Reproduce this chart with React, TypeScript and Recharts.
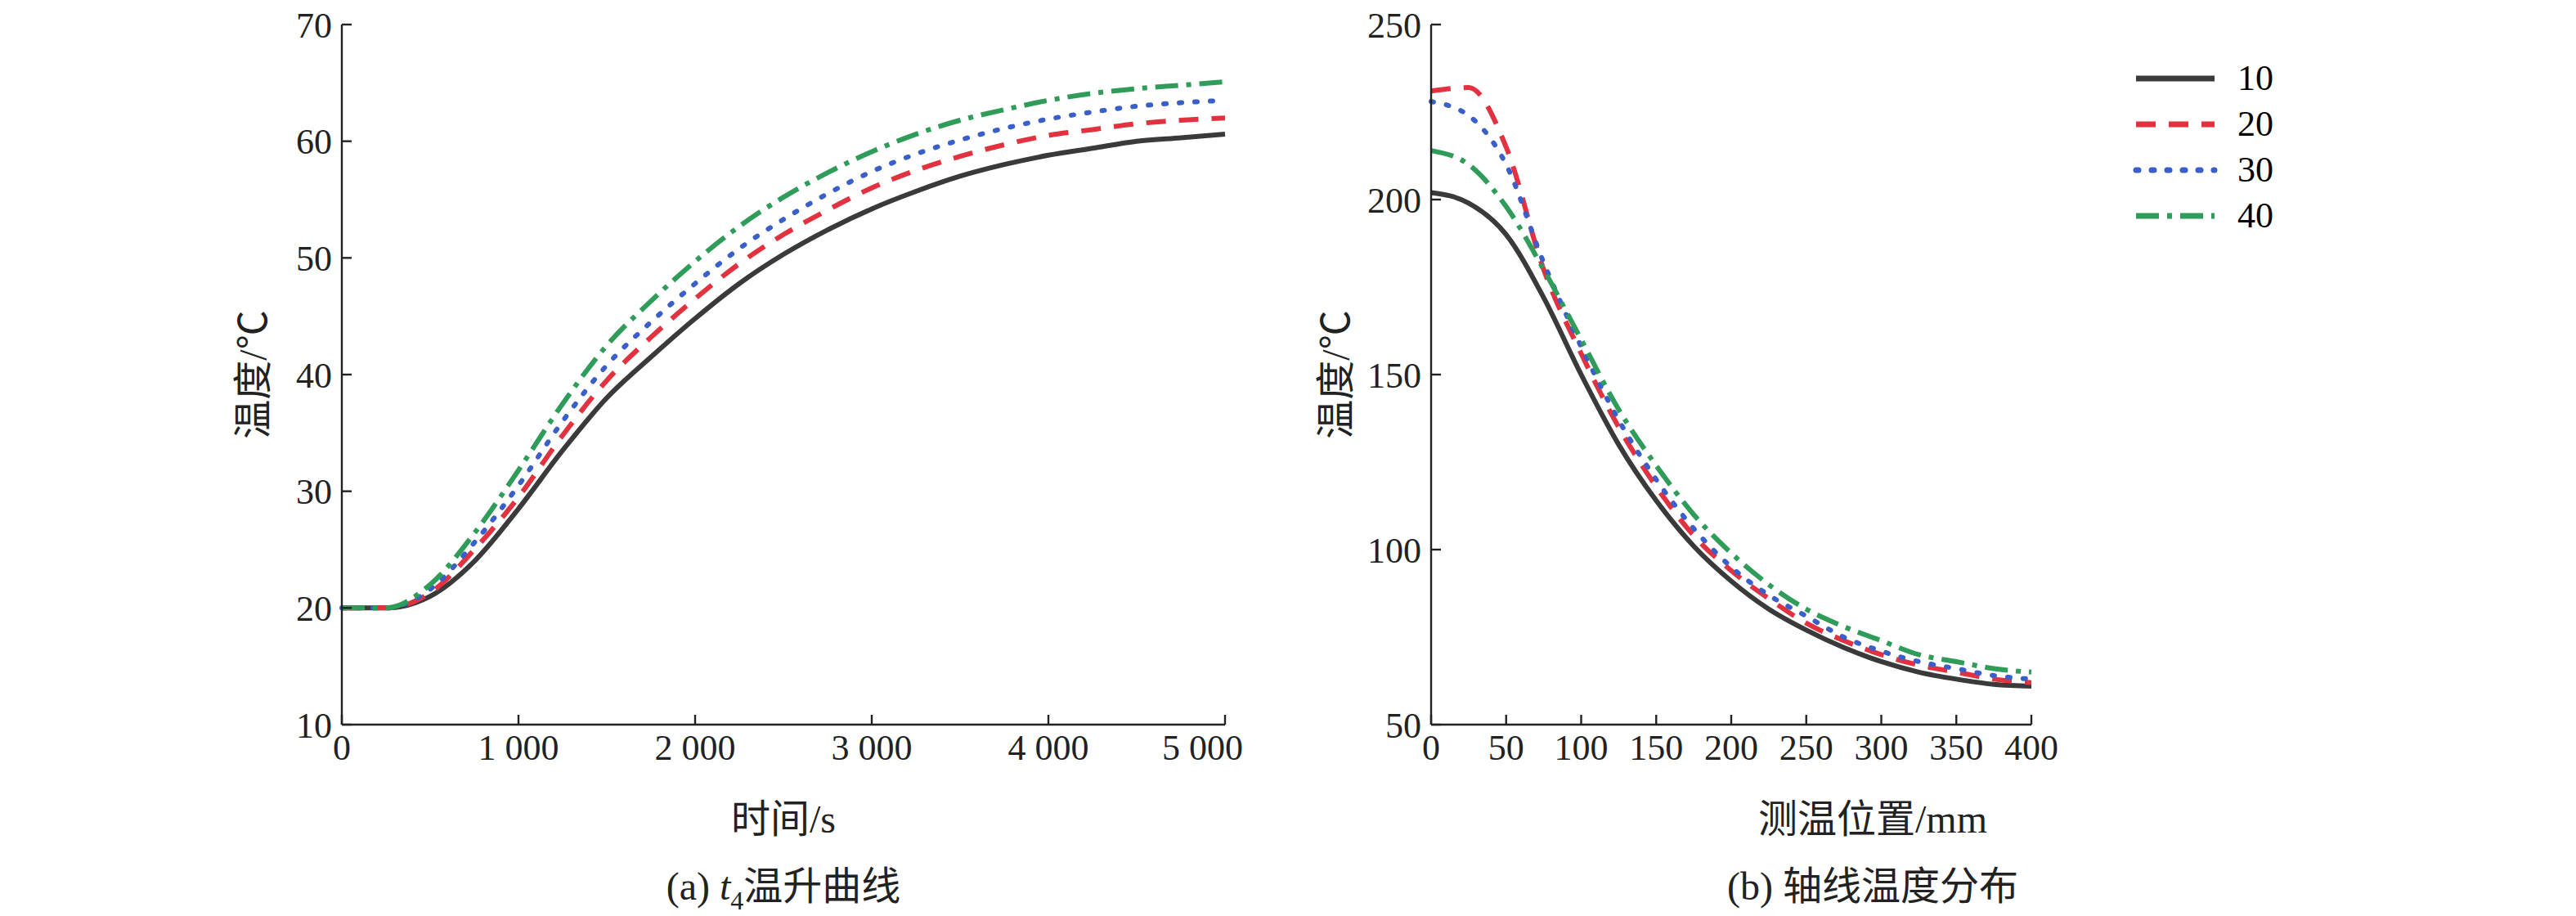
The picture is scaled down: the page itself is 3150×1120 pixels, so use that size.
import { LineChart, Line, XAxis, YAxis, Legend } from "recharts";

const times = [0, 250, 500, 750, 1000, 1250, 1500, 1750, 2000, 2250, 2500, 2750, 3000, 3250, 3500, 3750, 4000, 4250, 4500, 4750, 5000];
const riseS10 = [20, 20, 21, 24, 28.5, 33.5, 38, 41.5, 44.8, 47.8, 50.3, 52.4, 54.2, 55.7, 57, 58, 58.8, 59.4, 60, 60.3, 60.6];
const riseS20 = [20, 20, 21.3, 25, 29.5, 34.8, 39.5, 43.2, 46.5, 49.5, 52, 54.1, 56, 57.5, 58.7, 59.7, 60.5, 61, 61.5, 61.8, 62];
const riseS30 = [20, 20, 21.6, 25.6, 30.5, 36, 40.8, 44.5, 47.8, 50.8, 53.3, 55.5, 57.4, 58.9, 60.1, 61.1, 61.9, 62.5, 63, 63.3, 63.5];
const riseS40 = [20, 20, 22, 26.4, 31.8, 37.5, 42.5, 46.3, 49.7, 52.7, 55.2, 57.3, 59.1, 60.6, 61.8, 62.7, 63.5, 64.1, 64.5, 64.8, 65.1];

const positions = [0, 25, 50, 75, 100, 125, 150, 175, 200, 225, 250, 275, 300, 325, 350, 375, 400];
const axisS10 = [202, 199, 190, 172, 150, 130, 114, 101, 91, 83, 77, 72, 68, 65, 63, 61.5, 61];
const axisS20 = [231, 232, 215, 180, 156, 135, 118, 104, 94, 86, 79, 74, 70, 67, 65, 63, 62];
const axisS30 = [228, 224, 210, 182, 158, 137, 120, 106, 95, 87, 81, 75, 71, 68, 66, 64, 63];
const axisS40 = [214, 210, 198, 180, 160, 140, 124, 110, 99, 90, 83, 78, 74, 70, 68, 66, 65];

const seriesNames = ["10", "20", "30", "40"];
const leftTicksX = [0, 1000, 2000, 3000, 4000, 5000];
const leftTicksY = [10, 20, 30, 40, 50, 60, 70];
const rightTicksX = [0, 50, 100, 150, 200, 250, 300, 350, 400];
const rightTicksY = [50, 100, 150, 200, 250];

const riseData = times.map((t, i) => ({ t, "10": riseS10[i], "20": riseS20[i], "30": riseS30[i], "40": riseS40[i] }));
const axisData = positions.map((p, i) => ({ p, "10": axisS10[i], "20": axisS20[i], "30": axisS30[i], "40": axisS40[i] }));

const styles = [
  { color: "#3a3a3a", dash: undefined as string | undefined, width: 3 },
  { color: "#e2323f", dash: "12 8", width: 3 },
  { color: "#3b5fc9", dash: "1.5 8", width: 3 },
  { color: "#2f9c5a", dash: "14 5 3 5", width: 3 },
];

const font = "'Liberation Serif', 'Noto Sans CJK SC', serif";
const tick = { fill: "#222", fontSize: 22, fontFamily: font };
const axisLine = { stroke: "#222", strokeWidth: 1.2 };

const fmt = (v: number) => (v >= 1000 ? `${Math.floor(v / 1000)} ${String(v % 1000).padStart(3, "0")}` : String(v));

function LegendBox() {
  return (
    <div style={{ fontFamily: font, fontSize: 22 }}>
      {seriesNames.map((n, i) => (
        <div key={n} style={{ display: "flex", alignItems: "center", height: 28 }}>
          <svg width={52} height={10}>
            <line x1={2} y1={5} x2={50} y2={5} stroke={styles[i].color} strokeWidth={3.5}
              strokeDasharray={styles[i].dash} strokeLinecap={i === 2 ? "round" : "butt"} />
          </svg>
          <span style={{ marginLeft: 12 }}>{n}</span>
        </div>
      ))}
    </div>
  );
}

function lines() {
  return seriesNames.map((n, i) => (
    <Line key={n} dataKey={n} type="monotone" dot={false} isAnimationActive={false}
      stroke={styles[i].color} strokeWidth={styles[i].width} strokeDasharray={styles[i].dash}
      strokeLinecap={i === 2 ? "round" : "butt"} />
  ));
}

const txt = (s: React.CSSProperties): React.CSSProperties => ({ position: "absolute", fontFamily: font, fontSize: 24, color: "#222", whiteSpace: "nowrap", ...s });

export default function App() {
  return (
    <div style={{ position: "absolute", left: 0, top: 0, width: 3150, height: 1120, background: "#fff", overflow: "hidden" }}>
      <div style={{ position: "absolute", left: 0, top: 0, width: 1575, height: 560, transform: "scale(2)", transformOrigin: "left top" }}>
        <div style={{ position: "absolute", left: 0, top: 0 }}>
          <LineChart width={760} height={473} data={riseData} margin={{ top: 15, right: 11, left: 169, bottom: 0 }}>
            <XAxis dataKey="t" type="number" domain={[0, 5000]} ticks={leftTicksX} tickFormatter={fmt}
              tick={tick} axisLine={axisLine} tickLine={axisLine} height={30} tickSize={-6} tickMargin={12} />
            <YAxis type="number" domain={[10, 70]} ticks={leftTicksY} tick={tick} axisLine={axisLine}
              tickLine={axisLine} width={40} tickSize={-6} tickMargin={12} />
            {lines()}
          </LineChart>
        </div>
        <div style={{ position: "absolute", left: 800, top: 0 }}>
          <LineChart width={630} height={473} data={axisData} margin={{ top: 15, right: 16, left: 35, bottom: 0 }}>
            <XAxis dataKey="p" type="number" domain={[0, 400]} ticks={rightTicksX}
              tick={tick} axisLine={axisLine} tickLine={axisLine} height={30} tickSize={-6} tickMargin={12} />
            <YAxis type="number" domain={[50, 250]} ticks={rightTicksY} tick={tick} axisLine={axisLine}
              tickLine={axisLine} width={40} tickSize={-6} tickMargin={12} />
            <Legend layout="vertical" verticalAlign="top" align="right" content={() => <LegendBox />}
              wrapperStyle={{ top: 34, right: 40, left: "auto", width: "auto" }} />
            {lines()}
          </LineChart>
        </div>
        <div style={txt({ left: 135, top: 229, transform: "rotate(-90deg)", transformOrigin: "left top" })}>
          <div style={{ transform: "translateX(-50%)" }}>温度/℃</div>
        </div>
        <div style={txt({ left: 797, top: 229, transform: "rotate(-90deg)", transformOrigin: "left top" })}>
          <div style={{ transform: "translateX(-50%)" }}>温度/℃</div>
        </div>
        <div style={txt({ left: 479, top: 481, transform: "translateX(-50%)" })}>时间/s</div>
        <div style={txt({ left: 1145, top: 481, transform: "translateX(-50%)" })}>测温位置/mm</div>
        <div style={txt({ left: 479, top: 522, transform: "translateX(-50%)" })}>
          (a) <i>t</i><sub style={{ fontSize: 16 }}>4</sub>温升曲线
        </div>
        <div style={txt({ left: 1145, top: 522, transform: "translateX(-50%)" })}>(b) 轴线温度分布</div>
      </div>
    </div>
  );
}
